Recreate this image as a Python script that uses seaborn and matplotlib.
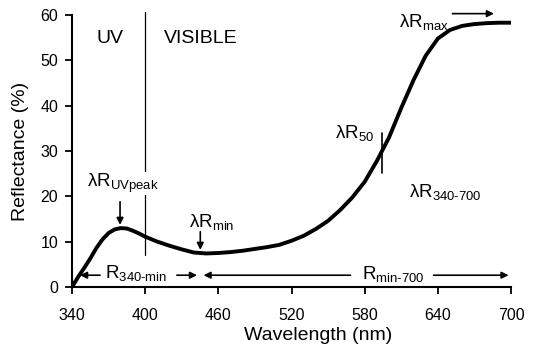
import numpy as np
import pandas as pd
import matplotlib
matplotlib.use("Agg")
import matplotlib.pyplot as plt
import seaborn as sns

# reflectance spectrum
wavelength = [340, 345, 350, 355, 360, 365, 370, 375, 380, 385, 390, 395, 400,
              410, 420, 430, 440, 450, 460, 470, 480, 490, 500, 510, 520, 530,
              540, 550, 560, 570, 580, 590, 600, 610, 620, 630, 640, 650, 660,
              670, 680, 690, 700]
reflectance = [0.0, 2.2, 4.2, 6.3, 8.6, 10.5, 11.9, 12.7, 13.0, 12.9, 12.4, 11.8, 11.1,
               10.0, 9.1, 8.3, 7.6, 7.4, 7.5, 7.7, 8.0, 8.4, 8.8, 9.3, 10.2, 11.3,
               12.8, 14.6, 17.0, 19.8, 23.2, 27.8, 33.0, 39.5, 45.6, 51.0, 54.8, 56.7, 57.6,
               58.0, 58.2, 58.3, 58.3]
x_ticks = [340, 400, 460, 520, 580, 640, 700]
y_ticks = [0, 10, 20, 30, 40, 50, 60]

df = pd.DataFrame({"Wavelength (nm)": wavelength, "Reflectance (%)": reflectance})

sns.set_theme(style="ticks")
plt.rcParams["font.family"] = ["Liberation Sans", "DejaVu Sans"]
plt.rcParams["mathtext.fontset"] = "custom"
plt.rcParams["mathtext.rm"] = "Liberation Sans"
plt.rcParams["mathtext.it"] = "Liberation Sans:italic"
plt.rcParams["text.color"] = "black"
plt.rcParams["axes.labelcolor"] = "black"

fig = plt.figure(figsize=(5.33, 3.53), dpi=100)
ax = fig.add_axes([72 / 533, 66 / 353, 439 / 533, 272 / 353])

sns.lineplot(data=df, x="Wavelength (nm)", y="Reflectance (%)", ax=ax,
             color="black", linewidth=2.8)

ax.set_xlim(340, 700)
ax.set_ylim(0, 60)
ax.set_xticks(x_ticks)
ax.set_yticks(y_ticks)
sns.despine(ax=ax)
for s in ["left", "bottom"]:
    ax.spines[s].set_linewidth(1.5)
    ax.spines[s].set_color("black")
ax.tick_params(axis="both", direction="out", length=5, width=1.3, colors="black",
               labelsize=11.5)
ax.tick_params(axis="x", pad=10)
ax.tick_params(axis="y", pad=5)
ax.set_xlabel("Wavelength (nm)", fontsize=14)
ax.set_ylabel("Reflectance (%)", fontsize=14)
ax.xaxis.set_label_coords(0.56, -0.148)
ax.yaxis.set_label_coords(-0.098, 0.5)

fs = 13.5
# UV / visible divider
ax.plot([400, 400], [7.1, 60.7], color="black", lw=0.9, clip_on=False, zorder=1)
ax.text(360, 53.8, "UV", fontsize=14, va="baseline")
ax.text(415, 53.8, "VISIBLE", fontsize=14, va="baseline")

arrow = dict(arrowstyle="-|>", color="black", lw=1.2, mutation_scale=10,
             shrinkA=0, shrinkB=0)

ax.text(352, 22.0, r"λR$_{\text{UVpeak}}$", fontsize=fs, va="baseline",
        bbox=dict(facecolor="white", edgecolor="none", pad=0), zorder=3)
ax.annotate("", xy=(379.4, 13.7), xytext=(379.4, 18.8), arrowprops=arrow)

ax.text(435.6, 13.3, r"λR$_{\text{min}}$", fontsize=fs, va="baseline")
ax.annotate("", xy=(445.2, 8.2), xytext=(445.2, 12.2), arrowprops=arrow)

ax.text(556, 32.8, r"λR$_{\text{50}}$", fontsize=fs, va="baseline")
ax.plot([594, 594], [25.1, 34.0], color="black", lw=1.2)

ax.text(608, 57.4, r"λR$_{\text{max}}$", fontsize=fs, va="baseline")
ax.annotate("", xy=(686, 60.3), xytext=(652, 60.3), arrowprops=arrow,
            annotation_clip=False)

ax.text(616, 19.9, r"λR$_{\text{340-700}}$", fontsize=fs, va="baseline")

# range arrows
ax.text(367, 1.9, r"R$_{\text{340-min}}$", fontsize=fs, va="baseline")
ax.annotate("", xy=(346.6, 2.6), xytext=(363, 2.6), arrowprops=arrow)
ax.annotate("", xy=(442.5, 2.6), xytext=(426, 2.6), arrowprops=arrow)
ax.text(578, 1.7, r"R$_{\text{min-700}}$", fontsize=fs, va="baseline")
ax.annotate("", xy=(447.9, 2.6), xytext=(568.4, 2.6), arrowprops=arrow)
ax.annotate("", xy=(698, 2.6), xytext=(636.6, 2.6), arrowprops=arrow)

fig.savefig("out.png", dpi=100)
